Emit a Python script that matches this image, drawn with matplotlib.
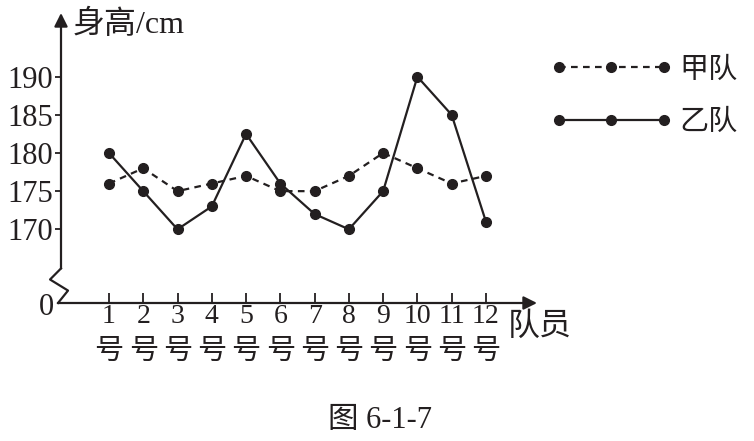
import matplotlib
matplotlib.use("Agg")
import matplotlib.pyplot as plt

# heights (cm), players 1..12
players = list(range(1, 13))
number_labels = [str(p) for p in players]
team_jia = [176, 178, 175, 176, 177, 175, 175, 177, 180, 178, 176, 177]
team_yi = [180, 175, 170, 173, 182.5, 176, 172, 170, 175, 190, 185, 171]
y_ticks = [170, 175, 180, 185, 190]

plt.rcParams["font.family"] = ["Liberation Serif", "Noto Sans CJK SC"]

INK = "#231f20"
W, H = 754, 441

fig = plt.figure(figsize=(W / 100, H / 100), dpi=100)
ax = fig.add_axes([61 / W, 1 - 303 / H, 476 / W, 290 / H])
x_lo, x_hi = -0.40, 13.49
y_lo, y_hi = 160.34, 198.35
ax.set_xlim(x_lo, x_hi)
ax.set_ylim(y_lo, y_hi)
for spine in ax.spines.values():
    spine.set_visible(False)

# series
ax.plot(players, team_jia, color=INK, lw=1.6, ls=(0, (3, 2.4)),
        marker="o", ms=7, label="甲队", clip_on=False)
ax.plot(players, team_yi, color=INK, lw=1.6, ls="-",
        marker="o", ms=7, label="乙队", clip_on=False)

# axes with arrows; y axis has a break zigzag near the bottom
arrow = dict(arrowstyle="-|>", lw=1.6, color=INK, mutation_scale=20,
             shrinkA=0, shrinkB=0)
ax.annotate("", xy=(x_hi, y_lo), xytext=(-0.487, y_lo), arrowprops=arrow,
            annotation_clip=False)
ax.plot([-0.487, -0.195, -0.72, x_lo], [y_lo, 161.97, 163.42, 164.87],
        color=INK, lw=1.6, clip_on=False)
ax.annotate("", xy=(x_lo, y_hi), xytext=(x_lo, 164.87), arrowprops=arrow,
            annotation_clip=False)

ax.set_yticks(y_ticks)
ax.tick_params(axis="y", direction="out", length=4.5, width=1.3, pad=1,
               labelsize=22, colors=INK)
ax.set_xticks(players, number_labels)
ax.tick_params(axis="x", direction="in", length=7.2, width=1.3, pad=1,
               labelsize=20, colors=INK)

for p in players:
    ax.annotate("号", xy=(p, 0), xycoords=("data", "axes fraction"),
                xytext=(0, -35.3), textcoords="offset points",
                ha="center", va="center", fontsize=21, color=INK)

ax.annotate("0", xy=(0, 0), xycoords="axes fraction", xytext=(-5, -3.5),
            textcoords="offset points", ha="right", va="center",
            fontsize=22, color=INK)

fig.text(73 / W, 1 - 25 / H, "身高/cm", ha="left", va="center",
         fontsize=23, color=INK)
fig.text(508 / W, 1 - 327 / H, "队员", ha="left", va="center",
         fontsize=23, color=INK)
fig.text(380 / W, 1 - 420 / H, "图 6-1-7", ha="center", va="center",
         fontsize=22, color=INK)

fig.legend(loc="center left", bbox_to_anchor=(550 / W, 1 - 96.5 / H),
           bbox_transform=fig.transFigure, frameon=False, numpoints=3,
           fontsize=21, handlelength=4.2, handletextpad=0.25,
           labelspacing=0.89, borderpad=0, borderaxespad=0,
           labelcolor=INK)

fig.savefig("out.png", dpi=100)
